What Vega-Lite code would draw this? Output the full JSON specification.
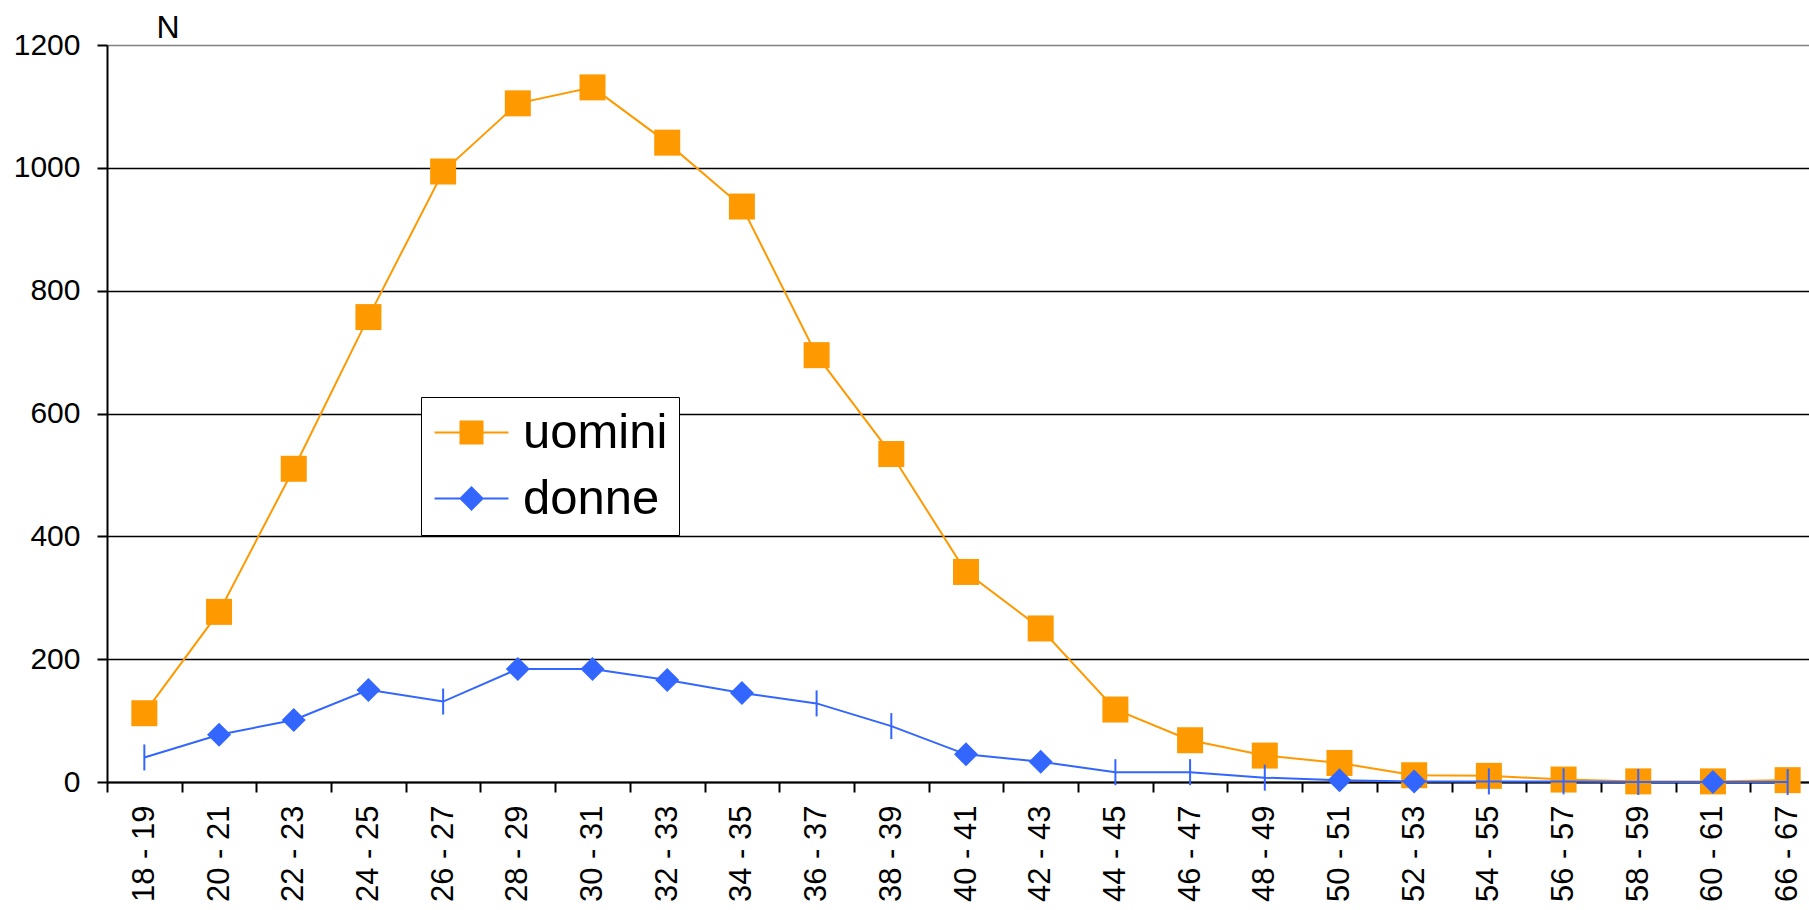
{
  "$schema": "https://vega.github.io/schema/vega-lite/v6.json",
  "autosize": {"type": "none"},
  "width": 1702,
  "height": 737,
  "padding": {"left": 107, "top": 45, "right": 0, "bottom": 128},
  "background": "white",
  "config": {
    "font": "Liberation Sans",
    "view": {"stroke": null},
    "axis": {"labelColor": "black", "titleColor": "black"}
  },
  "data": {
    "values": [
      {"eta": "18 - 19", "sesso": "uomini", "n": 112},
      {"eta": "20 - 21", "sesso": "uomini", "n": 277},
      {"eta": "22 - 23", "sesso": "uomini", "n": 510},
      {"eta": "24 - 25", "sesso": "uomini", "n": 757},
      {"eta": "26 - 27", "sesso": "uomini", "n": 994},
      {"eta": "28 - 29", "sesso": "uomini", "n": 1105},
      {"eta": "30 - 31", "sesso": "uomini", "n": 1131},
      {"eta": "32 - 33", "sesso": "uomini", "n": 1041},
      {"eta": "34 - 35", "sesso": "uomini", "n": 937},
      {"eta": "36 - 37", "sesso": "uomini", "n": 695},
      {"eta": "38 - 39", "sesso": "uomini", "n": 534},
      {"eta": "40 - 41", "sesso": "uomini", "n": 342},
      {"eta": "42 - 43", "sesso": "uomini", "n": 250},
      {"eta": "44 - 45", "sesso": "uomini", "n": 118},
      {"eta": "46 - 47", "sesso": "uomini", "n": 68},
      {"eta": "48 - 49", "sesso": "uomini", "n": 43},
      {"eta": "50 - 51", "sesso": "uomini", "n": 31},
      {"eta": "52 - 53", "sesso": "uomini", "n": 11},
      {"eta": "54 - 55", "sesso": "uomini", "n": 10},
      {"eta": "56 - 57", "sesso": "uomini", "n": 4},
      {"eta": "58 - 59", "sesso": "uomini", "n": 1},
      {"eta": "60 - 61", "sesso": "uomini", "n": 1},
      {"eta": "66 - 67", "sesso": "uomini", "n": 3},
      {"eta": "18 - 19", "sesso": "donne", "n": 40},
      {"eta": "20 - 21", "sesso": "donne", "n": 77},
      {"eta": "22 - 23", "sesso": "donne", "n": 101},
      {"eta": "24 - 25", "sesso": "donne", "n": 150},
      {"eta": "26 - 27", "sesso": "donne", "n": 131},
      {"eta": "28 - 29", "sesso": "donne", "n": 184},
      {"eta": "30 - 31", "sesso": "donne", "n": 184},
      {"eta": "32 - 33", "sesso": "donne", "n": 166},
      {"eta": "34 - 35", "sesso": "donne", "n": 145},
      {"eta": "36 - 37", "sesso": "donne", "n": 128},
      {"eta": "38 - 39", "sesso": "donne", "n": 91},
      {"eta": "40 - 41", "sesso": "donne", "n": 45},
      {"eta": "42 - 43", "sesso": "donne", "n": 33},
      {"eta": "44 - 45", "sesso": "donne", "n": 16},
      {"eta": "46 - 47", "sesso": "donne", "n": 16},
      {"eta": "48 - 49", "sesso": "donne", "n": 7},
      {"eta": "50 - 51", "sesso": "donne", "n": 3},
      {"eta": "52 - 53", "sesso": "donne", "n": 1},
      {"eta": "54 - 55", "sesso": "donne", "n": 1},
      {"eta": "56 - 57", "sesso": "donne", "n": 1},
      {"eta": "58 - 59", "sesso": "donne", "n": 0},
      {"eta": "60 - 61", "sesso": "donne", "n": 0},
      {"eta": "66 - 67", "sesso": "donne", "n": 0}
    ]
  },
  "encoding": {
    "x": {
      "field": "eta",
      "type": "nominal",
      "sort": null,
      "scale": {"type": "band", "range": [0, 1718], "paddingInner": 0, "paddingOuter": 0},
      "axis": {
        "title": null,
        "labelAngle": 270,
        "labelFontSize": 31,
        "labelPadding": 13,
        "labelOverlap": false,
        "tickBand": "extent",
        "tickSize": 10,
        "tickColor": "black",
        "tickWidth": 2,
        "domainColor": "black",
        "domainWidth": 2,
        "grid": false
      }
    },
    "y": {
      "field": "n",
      "type": "quantitative",
      "scale": {"domain": [0, 1200], "nice": false, "zero": true},
      "axis": {
        "values": [0, 200, 400, 600, 800, 1000, 1200],
        "format": "d",
        "title": "N",
        "titleAngle": 0,
        "titleX": 49,
        "titleY": -8,
        "titleAlign": "left",
        "titleBaseline": "alphabetic",
        "titleFontSize": 32,
        "titleFontWeight": "normal",
        "labelFontSize": 30,
        "labelPadding": 17,
        "tickSize": 10,
        "tickColor": "black",
        "tickWidth": 2,
        "domainColor": "black",
        "domainWidth": 2,
        "grid": true,
        "gridColor": {"condition": {"test": "datum.value === 1200", "value": "#808080"}, "value": "black"},
        "gridWidth": 1.5,
        "gridOpacity": 1
      }
    }
  },
  "layer": [
    {
      "transform": [{"filter": {"field": "sesso", "equal": "uomini"}}],
      "mark": {"type": "line", "strokeWidth": 2},
      "encoding": {
        "color": {
          "field": "sesso",
          "type": "nominal",
          "scale": {"domain": ["uomini", "donne"], "range": ["#FF9900", "#3366FF"]},
          "legend": {
            "orient": "none",
            "legendX": 314,
            "legendY": 352,
            "title": null,
            "padding": 11,
            "strokeColor": "black",
            "fillColor": "white",
            "labelFontSize": 49,
            "labelColor": "black",
            "labelFont": "Liberation Sans",
            "symbolSize": 484,
            "symbolOffset": 15,
            "labelOffset": 27,
            "rowPadding": 16,
            "symbolStrokeWidth": 2,
            "encode": {
              "symbols": {
                "update": {
                  "shape": {"signal": "datum.value === 'uomini' ? 'M-3.36,0L3.36,0M-1,-1L1,-1L1,1L-1,1Z' : 'M-3.36,0L3.36,0M0,-1L1,0L0,1L-1,0Z'"},
                  "fill": {"scale": "color", "field": "value"},
                  "stroke": {"scale": "color", "field": "value"},
                  "strokeWidth": {"value": 2},
                  "opacity": {"value": 1},
                  "fillOpacity": {"value": 1}
                }
              }
            }
          }
        }
      }
    },
    {
      "transform": [{"filter": {"field": "sesso", "equal": "uomini"}}],
      "mark": {"type": "point", "shape": "square", "filled": true, "size": 676, "color": "#FF9900", "opacity": 1}
    },
    {
      "transform": [{"filter": {"field": "sesso", "equal": "donne"}}],
      "mark": {"type": "line", "strokeWidth": 2},
      "encoding": {
        "color": {"field": "sesso", "type": "nominal"}
      }
    },
    {
      "transform": [
        {"filter": {"field": "sesso", "equal": "donne"}},
        {"filter": {"field": "eta", "oneOf": ["20 - 21", "22 - 23", "24 - 25", "28 - 29", "30 - 31", "32 - 33", "34 - 35", "40 - 41", "42 - 43", "50 - 51", "52 - 53", "60 - 61"]}}
      ],
      "mark": {"type": "point", "shape": "diamond", "filled": true, "size": 576, "color": "#3366FF", "opacity": 1}
    },
    {
      "transform": [
        {"filter": {"field": "sesso", "equal": "donne"}},
        {"filter": {"field": "eta", "oneOf": ["18 - 19", "26 - 27", "36 - 37", "38 - 39", "44 - 45", "46 - 47", "48 - 49", "54 - 55", "56 - 57", "58 - 59", "66 - 67"]}}
      ],
      "mark": {"type": "point", "shape": "M0,-1L0,1", "filled": false, "size": 676, "stroke": "#3366FF", "strokeWidth": 2, "opacity": 1}
    }
  ]
}
